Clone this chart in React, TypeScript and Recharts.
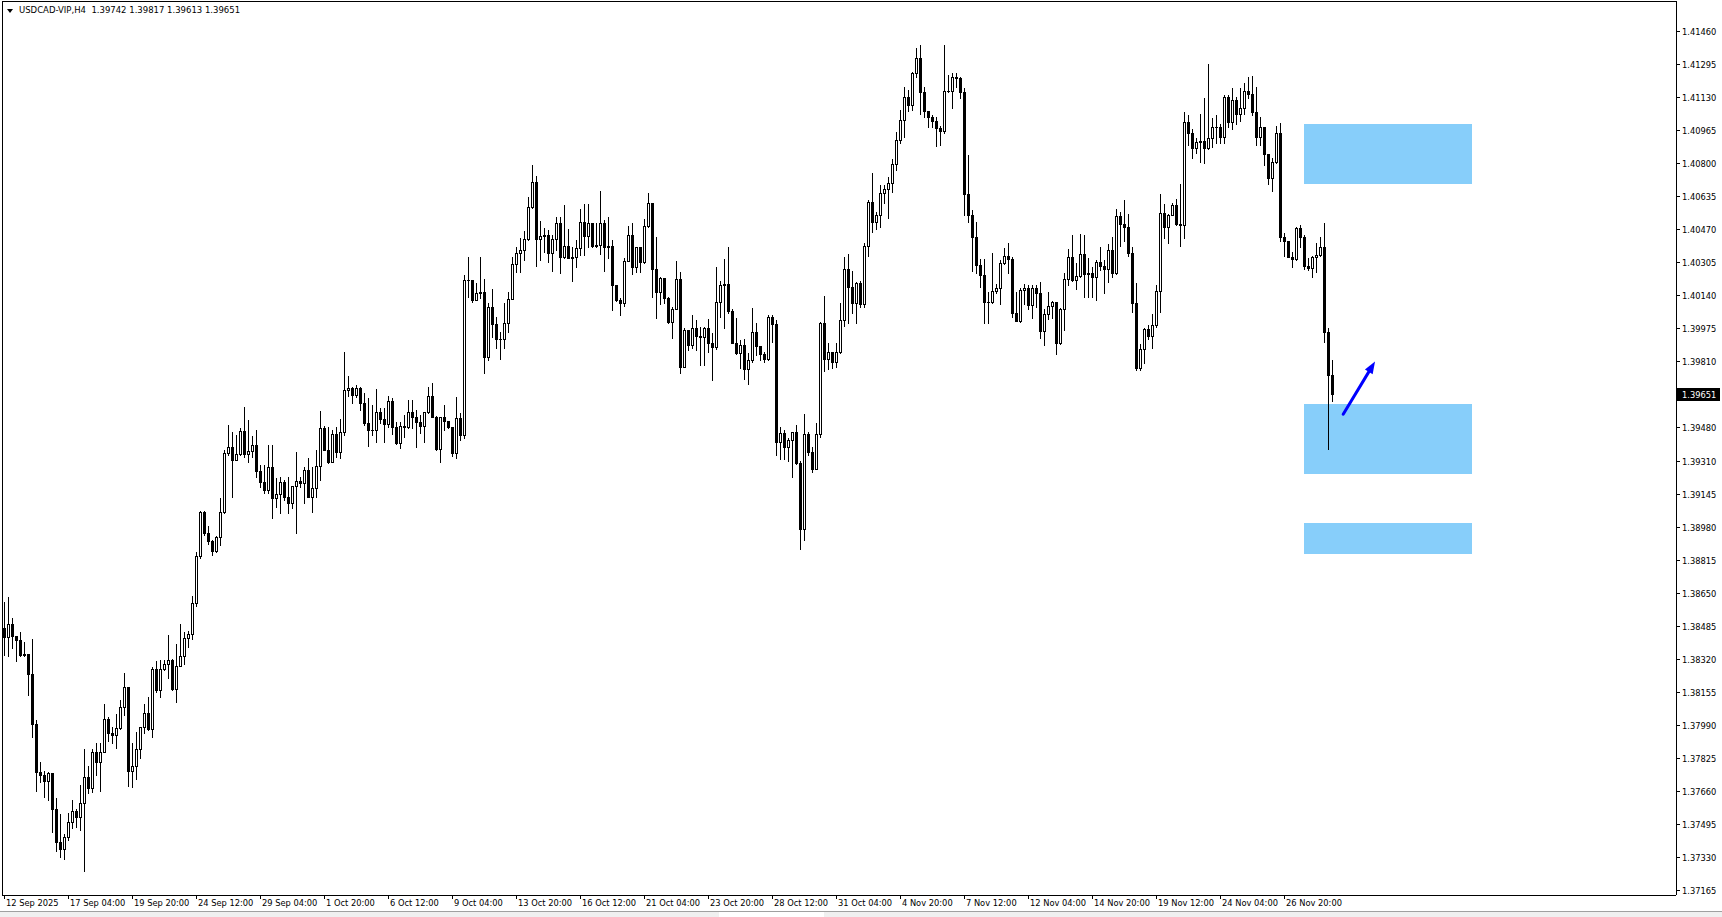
import { ComposedChart, Bar, XAxis, YAxis, ReferenceArea, ReferenceLine } from 'recharts'

const SYMBOL = 'USDCAD-VIP,H4'
const LAST_OHLC = ['1.39742', '1.39817', '1.39613', '1.39651']
const LAST_PRICE = 1.39651

// time axis: one label every 16 H4 bars
const xTickBars = [0, 16, 32, 48, 64, 80, 96, 112, 128, 144, 160, 176, 192, 208, 224, 240, 256, 272, 288, 304, 320]
const xTickLabels = [
  '12 Sep 2025', '17 Sep 04:00', '19 Sep 20:00', '24 Sep 12:00', '29 Sep 04:00', '1 Oct 20:00',
  '6 Oct 12:00', '9 Oct 04:00', '13 Oct 20:00', '16 Oct 12:00', '21 Oct 04:00', '23 Oct 20:00',
  '28 Oct 12:00', '31 Oct 04:00', '4 Nov 20:00', '7 Nov 12:00', '12 Nov 04:00', '14 Nov 20:00',
  '19 Nov 12:00', '24 Nov 04:00', '26 Nov 20:00',
]

const yTicks = [
  1.4146, 1.41295, 1.4113, 1.40965, 1.408, 1.40635, 1.4047, 1.40305, 1.4014, 1.39975, 1.3981,
  1.3948, 1.3931, 1.39145, 1.3898, 1.38815, 1.3865, 1.38485, 1.3832, 1.38155, 1.3799,
  1.37825, 1.3766, 1.37495, 1.3733, 1.37165,
]

// prices in 1e-5 units; each bar opens at the previous close
const FIRST_OPEN = 138480
const closes = [
  138436, 138499, 138441, 138419, 138344, 138349, 138249, 137999, 137761, 137744,
  137716, 137752, 137576, 137411, 137372, 137432, 137507, 137564, 137532, 137602,
  137732, 137677, 137857, 137811, 137861, 138022, 137956, 137942, 137979, 138082,
  138182, 137766, 137791, 137872, 137982, 138052, 137974, 138272, 138169, 138272,
  138297, 138319, 138172, 138291, 138341, 138427, 138449, 138602, 138839, 139061,
  138956, 138916, 138866, 138932, 139057, 139352, 139386, 139319, 139349, 139464,
  139349, 139364, 139394, 139266, 139211, 139169, 139282, 139127, 139147, 139207,
  139136, 139102, 139189, 139214, 139206, 139269, 139136, 139177, 139289, 139477,
  139369, 139311, 139447, 139361, 139457, 139669, 139677, 139644, 139677, 139606,
  139502, 139469, 139469, 139561, 139522, 139497, 139614, 139486, 139402, 139489,
  139482, 139557, 139532, 139511, 139489, 139557, 139639, 139532, 139374, 139536,
  139516, 139486, 139352, 139527, 139444, 140219, 140219, 140119, 140152, 140161,
  139832, 140086, 139999, 139922, 139922, 140006, 140122, 140297, 140352, 140369,
  140422, 140582, 140707, 140422, 140439, 140444, 140356, 140422, 140502, 140332,
  140391, 140327, 140332, 140381, 140507, 140439, 140502, 140389, 140394, 140502,
  140386, 140389, 140194, 140119, 140106, 140314, 140444, 140286, 140382, 140309,
  140489, 140606, 140272, 140161, 140231, 140131, 140011, 140072, 140224, 139782,
  139969, 139894, 139977, 139941, 139936, 139977, 139906, 139882, 140107, 140194,
  140199, 140066, 139902, 139852, 139894, 139772, 139819, 139957, 139891, 139847,
  139822, 140036, 139999, 139411, 139452, 139382, 139419, 139457, 139306, 138972,
  139449, 139361, 139272, 139449, 140006, 139822, 139857, 139807, 139857, 140019,
  140274, 140182, 140102, 140202, 140097, 140389, 140607, 140511, 140544, 140652,
  140672, 140702, 140799, 140919, 141019, 141132, 141094, 141256, 141327, 141161,
  141066, 141032, 141016, 140977, 140966, 141164, 141164, 141236, 141227, 141161,
  140649, 140544, 140436, 140294, 140244, 140111, 140111, 140164, 140177, 140302,
  140341, 140322, 140052, 140016, 140169, 140177, 140094, 140177, 140152, 139966,
  140049, 140089, 140107, 139906, 140072, 140222, 140336, 140219, 140241, 140349,
  140249, 140252, 140232, 140311, 140289, 140272, 140369, 140256, 140539, 140499,
  140486, 140356, 140102, 139777, 139872, 139972, 139939, 139994, 140164, 140556,
  140482, 140544, 140594, 140499, 140494, 141007, 140956, 140881, 140907, 140916,
  140881, 140927, 140982, 140986, 140932, 141132, 141011, 141119, 141047, 141077,
  141166, 141147, 141057, 140936, 140986, 140847, 140727, 140811, 140952, 140436,
  140416, 140336, 140322, 140477, 140436, 140289, 140281, 140332, 140344, 140386,
  139961, 139742, 139651,
]
const highs = [
  138611, 138636, 138527, 138439, 138457, 138411, 138349, 138422, 138019, 137809,
  137766, 137761, 137756, 137627, 137549, 137449, 137552, 137619, 137572, 137694,
  137872, 137789, 137872, 137902, 137902, 138099, 138032, 137986, 138049, 138119,
  138252, 138186, 137906, 137957, 137986, 138099, 138136, 138286, 138316, 138319,
  138319, 138444, 138322, 138397, 138499, 138461, 138466, 138639, 138860, 139064,
  139064, 138991, 138919, 138939, 139127, 139369, 139494, 139461, 139444, 139477,
  139582, 139519, 139439, 139469, 139294, 139294, 139394, 139394, 139227, 139236,
  139219, 139236, 139189, 139361, 139236, 139282, 139327, 139282, 139369, 139564,
  139489, 139486, 139469, 139486, 139522, 139860, 139740, 139686, 139694, 139686,
  139652, 139627, 139594, 139672, 139577, 139577, 139639, 139627, 139511, 139511,
  139544, 139619, 139619, 139569, 139544, 139557, 139686, 139706, 139539, 139536,
  139594, 139511, 139486, 139636, 139552, 140244, 140336, 140169, 140202, 140332,
  140222, 140102, 140172, 140036, 139961, 140102, 140161, 140332, 140386, 140427,
  140464, 140636, 140794, 140739, 140516, 140477, 140469, 140444, 140536, 140536,
  140594, 140472, 140386, 140419, 140572, 140599, 140599, 140432, 140502, 140664,
  140519, 140536, 140419, 140194, 140127, 140327, 140489, 140506, 140382, 140361,
  140522, 140656, 140599, 140432, 140236, 140202, 140136, 140086, 140314, 140261,
  139977, 139944, 140044, 140019, 139986, 139986, 140022, 139952, 140286, 140214,
  140322, 140386, 140072, 140027, 139919, 139922, 139852, 140077, 140006, 139882,
  139861, 140044, 140044, 140019, 139486, 139469, 139427, 139457, 139494, 139316,
  139549, 139457, 139386, 139506, 140011, 140139, 139902, 139836, 139902, 140106,
  140332, 140349, 140266, 140211, 140216, 140402, 140619, 140756, 140561, 140694,
  140694, 140736, 140822, 140961, 141069, 141182, 141169, 141261, 141377, 141394,
  141182, 141039, 141044, 141032, 140989, 141394, 141244, 141256, 141256, 141236,
  141177, 140844, 140569, 140511, 140322, 140322, 140161, 140356, 140199, 140319,
  140377, 140402, 140336, 140161, 140177, 140199, 140194, 140194, 140194, 140211,
  140072, 140161, 140116, 140111, 140077, 140256, 140372, 140444, 140302, 140449,
  140444, 140327, 140282, 140319, 140386, 140319, 140399, 140436, 140574, 140561,
  140619, 140549, 140386, 140206, 139899, 139977, 139994, 140049, 140194, 140649,
  140599, 140549, 140602, 140622, 140699, 141061, 141044, 140972, 140927, 141049,
  141127, 141299, 141027, 141044, 140999, 141144, 141144, 141177, 141136, 141177,
  141202, 141236, 141239, 141182, 141032, 140969, 140849, 140827, 140989, 141002,
  140452, 140391, 140361, 140486, 140494, 140444, 140327, 140339, 140406, 140436,
  140506, 139977, 139817,
]
const lows = [
  138344, 138339, 138377, 138316, 138339, 138339, 138144, 137932, 137666, 137711,
  137632, 137619, 137461, 137366, 137336, 137326, 137419, 137477, 137486, 137469,
  137266, 137652, 137661, 137744, 137666, 137861, 137912, 137902, 137881, 137972,
  138044, 137691, 137686, 137722, 137827, 137956, 137969, 137932, 138161, 138136,
  138269, 138227, 138169, 138111, 138289, 138297, 138386, 138422, 138590, 138830,
  138944, 138899, 138844, 138861, 138894, 139056, 139344, 139136, 139336, 139344,
  139336, 139311, 139336, 139236, 139186, 139152, 139152, 139027, 139086, 139056,
  139119, 139056, 139077, 138956, 139186, 139102, 139136, 139061, 139132, 139219,
  139369, 139302, 139377, 139332, 139327, 139444, 139640, 139602, 139636, 139569,
  139494, 139391, 139444, 139411, 139502, 139407, 139486, 139449, 139397, 139381,
  139432, 139477, 139477, 139382, 139452, 139411, 139552, 139532, 139369, 139311,
  139469, 139477, 139339, 139331, 139419, 139430, 140136, 140111, 140127, 140127,
  139752, 139819, 139932, 139877, 139822, 139877, 139961, 140122, 140261, 140261,
  140319, 140419, 140577, 140289, 140319, 140361, 140311, 140266, 140369, 140256,
  140327, 140327, 140216, 140282, 140344, 140344, 140386, 140382, 140382, 140349,
  140266, 140327, 140069, 140116, 140044, 140089, 140314, 140249, 140261, 140261,
  140302, 140482, 140136, 140027, 140099, 140106, 140002, 139927, 140072, 139752,
  139782, 139869, 139877, 139869, 139794, 139794, 139861, 139719, 139872, 140036,
  139977, 140052, 139902, 139849, 139777, 139722, 139699, 139811, 139844, 139819,
  139811, 139819, 139911, 139344, 139324, 139324, 139316, 139236, 139299, 138876,
  138919, 139344, 139261, 139277, 139436, 139766, 139772, 139777, 139782, 139856,
  139990, 140006, 140056, 140002, 140086, 140086, 140339, 140461, 140472, 140482,
  140602, 140527, 140661, 140769, 140906, 140936, 141066, 141069, 141236, 141049,
  141032, 140986, 140986, 140889, 140894, 140956, 141161, 141077, 141186, 141127,
  140544, 140511, 140266, 140256, 140186, 140002, 140006, 140106, 140152, 140099,
  140299, 140252, 140032, 140016, 140011, 140099, 140072, 140027, 140082, 139927,
  139894, 140022, 140027, 139849, 139899, 139969, 140194, 140216, 140172, 140236,
  140136, 140136, 140136, 140119, 140269, 140156, 140211, 140232, 140249, 140389,
  140416, 140339, 140061, 139769, 139769, 139802, 139922, 139877, 139986, 140061,
  140427, 140402, 140544, 140494, 140391, 140427, 140894, 140827, 140856, 140811,
  140806, 140872, 140886, 140906, 140906, 140906, 140982, 140974, 140999, 141016,
  141049, 141127, 141044, 140894, 140894, 140794, 140699, 140666, 140806, 140416,
  140339, 140336, 140282, 140319, 140386, 140272, 140269, 140236, 140261, 140339,
  139911, 139372, 139613,
]

// drawn zones (price bounds) and the bar span they cover
const zoneTops = [1.41, 1.39599, 1.39004]
const zoneBottoms = [1.40699, 1.39249, 1.38849]
const ZONE_FIRST_BAR = 325
const ZONE_LAST_BAR = 367
// arrow drawn on the chart, in bar index / price
const arrowStart = { x: 334.8, y: 1.39548 }
const arrowEnd = { x: 342.75, y: 1.39811 }

const FONT = 'DejaVu Sans'

const data = closes.map((c, i) => {
  const o = i === 0 ? FIRST_OPEN : closes[i - 1]
  return {
    i,
    open: o / 1e5,
    close: c / 1e5,
    high: Math.max(highs[i], o, c) / 1e5,
    low: Math.min(lows[i], o, c) / 1e5,
  }
})

function Candle(props: any) {
  const { x, y, width, height, payload } = props
  const { open, close, high, low } = payload
  const top = Math.min(y, y + height)
  const h = Math.abs(height)
  const span = high - low
  const yOf = (v: number) => (span > 0 ? top + ((high - v) / span) * h : top)
  const cx = Math.round(x + width / 2) + 0.5
  const y1 = Math.round(yOf(Math.max(open, close))) + 0.5
  const y2 = Math.round(yOf(Math.min(open, close))) + 0.5
  const up = close >= open
  return (
    <g shapeRendering="crispEdges">
      <line x1={cx} x2={cx} y1={Math.round(top)} y2={Math.round(top + h) + 1} stroke="#000" strokeWidth={1} />
      {y2 - y1 < 1 ? (
        <line x1={cx - 1.5} x2={cx + 1.5} y1={y1} y2={y1} stroke="#000" strokeWidth={1} />
      ) : (
        <rect x={cx - 1} y={y1} width={2} height={y2 - y1} fill={up ? '#fff' : '#000'} stroke="#000" strokeWidth={1} />
      )}
    </g>
  )
}

function Arrow(props: any) {
  const { x1, y1, x2, y2 } = props
  const ang = Math.atan2(y2 - y1, x2 - x1)
  const len = 12
  const half = 4.5
  const bx = x2 - len * Math.cos(ang)
  const by = y2 - len * Math.sin(ang)
  const px = -Math.sin(ang) * half
  const py = Math.cos(ang) * half
  return (
    <g>
      <line x1={x1} y1={y1} x2={bx} y2={by} stroke="#0000ff" strokeWidth={3} strokeLinecap="round" />
      <polygon points={`${x2},${y2} ${bx + px},${by + py} ${bx - px},${by - py}`} fill="#0000ff" />
    </g>
  )
}

function PriceTag(props: any) {
  const vb = props.viewBox || {}
  const right = vb.x + vb.width
  return (
    <g>
      <rect x={right} y={Math.round(vb.y) - 6} width={44} height={13} fill="#000" />
      <text x={right + 6} y={Math.round(vb.y) + 3.5} fontSize={8.3} fontFamily={FONT} fill="#fff">
        {LAST_PRICE.toFixed(5)}
      </text>
    </g>
  )
}

function TimeTick(props: any) {
  const { x, y, payload } = props
  const k = xTickBars.indexOf(payload.value)
  return (
    <text x={x + 2} y={y + 7} fontSize={8.3} fontFamily={FONT} fill="#000" textAnchor="start">
      {xTickLabels[k]}
    </text>
  )
}

export default function App() {
  return (
    <div style={{ position: 'relative', width: 1722, height: 917, background: '#fff', overflow: 'hidden' }}>
      <style>{'body{margin:0}'}</style>
      <ComposedChart width={1722} height={917} data={data} margin={{ top: 2, left: 2, right: 0, bottom: 0 }}>
        <XAxis
          type="number"
          dataKey="i"
          domain={[-0.5, 418]}
          allowDataOverflow
          ticks={xTickBars}
          interval={0}
          height={22}
          tickSize={4}
          tickMargin={0}
          axisLine={{ stroke: '#000', shapeRendering: 'crispEdges' }}
          tickLine={{ stroke: '#000', shapeRendering: 'crispEdges' }}
          tick={TimeTick}
        />
        <YAxis
          orientation="right"
          type="number"
          domain={[1.37144, 1.41609]}
          allowDataOverflow
          ticks={yTicks}
          interval={0}
          width={46}
          tickSize={4}
          tickMargin={2}
          axisLine={{ stroke: '#000', shapeRendering: 'crispEdges' }}
          tickLine={{ stroke: '#000', shapeRendering: 'crispEdges' }}
          tick={{ fill: '#000', fontSize: 8.3, fontFamily: FONT }}
          tickFormatter={(v: number) => v.toFixed(5)}
        />
        {zoneTops.map((t, k) => (
          <ReferenceArea
            key={k}
            x1={ZONE_FIRST_BAR}
            x2={ZONE_LAST_BAR}
            y1={zoneBottoms[k]}
            y2={t}
            fill="#87cefa"
            fillOpacity={1}
            stroke="none"
            shapeRendering="crispEdges"
          />
        ))}
        <Bar dataKey={(d: any) => [d.low, d.high]} barSize={3} shape={Candle} isAnimationActive={false} />
        <ReferenceLine segment={[arrowStart, arrowEnd]} shape={Arrow} ifOverflow="visible" />
        <ReferenceLine y={LAST_PRICE} stroke="none" label={PriceTag} ifOverflow="visible" />
      </ComposedChart>
      {/* plot frame: left and top edges */}
      <div
        style={{
          position: 'absolute', left: 2, top: 1, width: 1675, height: 895,
          borderLeft: '1px solid #000', borderTop: '1px solid #000', boxSizing: 'border-box', pointerEvents: 'none',
        }}
      />
      {/* header */}
      <div
        style={{
          position: 'absolute', left: 7, top: 9, width: 0, height: 0,
          borderLeft: '3px solid transparent', borderRight: '3px solid transparent', borderTop: '4px solid #000',
        }}
      />
      <div
        style={{
          position: 'absolute', left: 19, top: 4, fontFamily: FONT, fontSize: 8.5, lineHeight: '12px',
          whiteSpace: 'pre', color: '#000',
        }}
      >
        {`${SYMBOL}  ${LAST_OHLC.join(' ')}`}
      </div>
      {/* bottom tab strip */}
      <div style={{ position: 'absolute', left: 0, top: 911, width: 1722, height: 6, background: '#f0f0f0', borderTop: '1px solid #a0a0a0' }} />
      <div style={{ position: 'absolute', left: 719, top: 912, width: 105, height: 5, background: '#fff' }} />
    </div>
  )
}
